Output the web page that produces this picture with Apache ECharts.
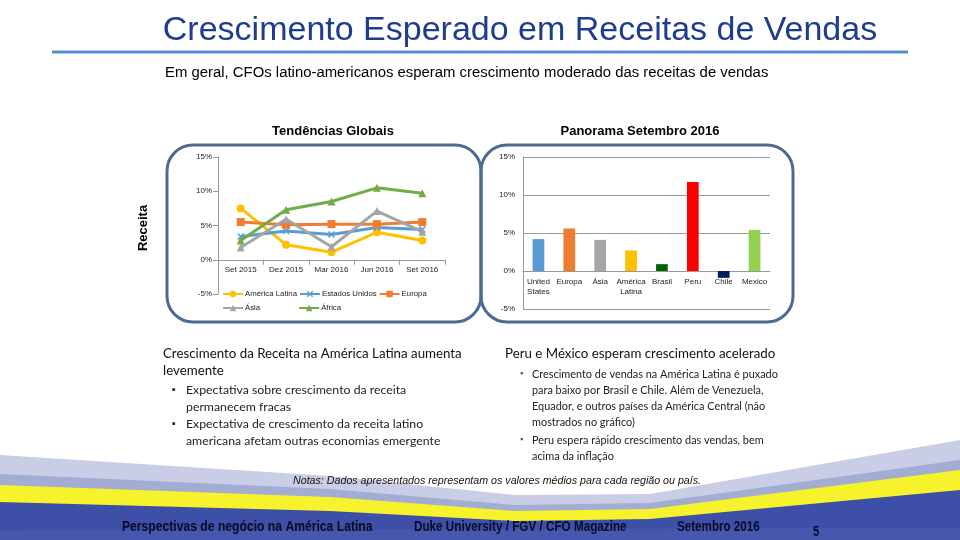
<!DOCTYPE html>
<html><head><meta charset="utf-8">
<script src="https://cdn.jsdelivr.net/npm/echarts@6/dist/echarts.min.js"></script>
<style>html,body{margin:0;padding:0;background:#fff}#c{width:960px;height:540px}</style>
</head><body><div id="c"></div>
<script>
const lineCategories = ['Set 2015', 'Dez 2015', 'Mar 2016', 'Jun 2016', 'Set 2016'];
const americaLatina = [7.5, 2.2, 1.1, 4.0, 2.8];
const estadosUnidos = [3.4, 4.2, 3.7, 4.7, 4.4];
const europa = [5.5, 5.1, 5.2, 5.2, 5.5];
const asia = [1.8, 5.9, 1.9, 7.1, 4.1];
const africa = [2.8, 7.3, 8.5, 10.5, 9.7];
const lineNames = ['América Latina', 'Estados Unidos', 'Europa', 'Ásia', 'África'];

const barCategories = ['United\nStates', 'Europa', 'Ásia', 'América\nLatina', 'Brasil', 'Peru', 'Chile', 'Mexico'];
const barValues = [4.2, 5.6, 4.1, 2.7, 0.9, 11.7, -0.9, 5.4];

const yMin = -5, yMax = 15, yStep = 5;

const barColors = ['#5B9BD5', '#ED7D31', '#A5A5A5', '#FFC000', '#006400', '#FF0000', '#002060', '#92D050'];
const lineColors = ['#FFC000', '#5B9BD5', '#ED7D31', '#A5A5A5', '#70AD47'];
const xSymbol = 'path://M0,1.5 L1.5,0 L5,3.5 L8.5,0 L10,1.5 L6.5,5 L10,8.5 L8.5,10 L5,6.5 L1.5,10 L0,8.5 L3.5,5 Z';
const lineSymbols = ['circle', xSymbol, 'rect', 'triangle', 'triangle'];
const lineData = [americaLatina, estadosUnidos, europa, asia, africa];

const chart = echarts.init(document.getElementById('c'), null, {renderer: 'canvas'});

const smallFont = {fontSize: 8, fontFamily: 'Liberation Sans', color: '#222'};

// grid geometry (layout only)
const g0 = {left: 218, right: 515, top: 157, bottom: 246};
const g1 = {left: 523, right: 190, top: 157, bottom: 231};
const h0 = 540 - g0.top - g0.bottom;
const h1 = 540 - g1.top - g1.bottom;
const zeroOffset0 = -h0 * (0 - yMin) / (yMax - yMin);
const zeroOffset1 = -h1 * (0 - yMin) / (yMax - yMin);

function band(pts, color) {
  return {type: 'polygon', z: 1, shape: {points: pts.concat([[960, 540], [0, 540]])}, style: {fill: color}, silent: true};
}
function txt(x, y, text, opts, extra) {
  return Object.assign({type: 'text', x: x, y: y, z: 10, silent: true, style: Object.assign({
    text: text, fontSize: 12, fontFamily: 'Liberation Sans', fill: '#000',
    textAlign: 'left', textVerticalAlign: 'middle'}, opts || {})}, extra || {});
}
const bodyFont = 'Lato';
const LB = {fontSize: 12.3, fontFamily: bodyFont, fill: '#222'};
const RB = {fontSize: 10.9, fontFamily: bodyFont, fill: '#222'};
const FT = {fontSize: 15, fontFamily: 'Liberation Sans', fill: '#0A0A25', fontWeight: 'bold'};
const graphics = [
  // title and rule
  txt(520, 31, 'Crescimento Esperado em Receitas de Vendas', {fontSize: 34, fill: '#1F3C8F', textAlign: 'center'}),
  {type: 'line', z: 5, shape: {x1: 52, y1: 52, x2: 908, y2: 52}, style: {stroke: '#5B8EC8', lineWidth: 3}},
  txt(165, 73, 'Em geral, CFOs latino-americanos esperam crescimento moderado das receitas de vendas', {fontSize: 14.9}),
  txt(333, 131, 'Tendências Globais', {fontSize: 13, fontWeight: 'bold', textAlign: 'center'}),
  txt(640, 131, 'Panorama Setembro 2016', {fontSize: 13, fontWeight: 'bold', textAlign: 'center'}),
  {type: 'text', x: 143, y: 228, rotation: Math.PI / 2, z: 10, style: {text: 'Receita', fontSize: 13, fontWeight: 'bold', fontFamily: 'Liberation Sans', fill: '#000', textAlign: 'center', textVerticalAlign: 'middle'}},
  // panels
  {type: 'rect', z: 0, shape: {x: 167, y: 145, width: 314, height: 177, r: 26}, style: {fill: 'none', stroke: '#4C6A92', lineWidth: 3}},
  {type: 'rect', z: 0, shape: {x: 481, y: 145, width: 312, height: 177, r: 26}, style: {fill: 'none', stroke: '#4C6A92', lineWidth: 3}},
  // left text
  txt(163, 354, 'Crescimento da Receita na América Latina aumenta', {fontSize: 13.3, fontFamily: bodyFont, fill: '#111'}),
  txt(163, 371, 'levemente', {fontSize: 13.3, fontFamily: bodyFont, fill: '#111'}),
  txt(172, 390, '▪', {fontSize: 11, fill: '#222'}),
  txt(186, 390, 'Expectativa sobre crescimento da receita', LB),
  txt(186, 407, 'permanecem fracas', LB),
  txt(172, 424, '▪', {fontSize: 11, fill: '#222'}),
  txt(186, 424, 'Expectativa de crescimento da receita latino', LB),
  txt(186, 441, 'americana afetam outras economias emergente', LB),
  // right text
  txt(505, 354, 'Peru e México esperam crescimento acelerado', {fontSize: 13.3, fontFamily: bodyFont, fill: '#111'}),
  txt(520, 374, '▪', {fontSize: 9, fill: '#555'}),
  txt(532, 374, 'Crescimento de vendas na América Latina é puxado', RB),
  txt(532, 390, 'para baixo por Brasil e Chile. Além de Venezuela,', RB),
  txt(532, 406, 'Equador, e outros países da América Central (não', RB),
  txt(532, 422, 'mostrados no gráfico)', RB),
  txt(520, 440, '▪', {fontSize: 9, fill: '#555'}),
  txt(532, 440, 'Peru espera rápido crescimento das vendas, bem', RB),
  txt(532, 456, 'acima da inflação', RB),
  // footer bands
  band([[0, 455], [330, 476], [515, 495], [650, 494], [960, 440]], '#C9CEE6'),
  band([[0, 474], [330, 489], [515, 505], [650, 503], [960, 460]], '#A3ACD3'),
  band([[0, 485], [330, 497], [515, 511], [650, 509], [960, 470]], '#F6F22C'),
  band([[0, 502], [330, 511], [515, 521], [650, 519], [960, 490]], '#3D4FA6'),
  band([[0, 530], [960, 528]], '#4657AE'),
  txt(293, 481, 'Notas: Dados apresentados representam os valores médios para cada região ou país.', {fontSize: 11, fontStyle: 'italic', fontFamily: 'Liberation Sans', fill: '#111'}, {scaleX: 0.97}),
  txt(122, 527, 'Perspectivas de negócio na América Latina', FT, {scaleX: 0.81}),
  txt(414, 527, 'Duke University / FGV / CFO Magazine', FT, {scaleX: 0.78}),
  txt(677, 527, 'Setembro 2016', FT, {scaleX: 0.775}),
  txt(813, 532, '5', {fontSize: 14, fontFamily: 'Liberation Sans', fill: '#0A0A25', fontWeight: 'bold'}, {scaleX: 0.8})
];

const lineSeries = lineNames.map((n, i) => ({
  name: n, type: 'line', xAxisIndex: 0, yAxisIndex: 0, data: lineData[i],
  symbol: lineSymbols[i], symbolSize: i === 1 ? 7 : 8, showSymbol: true,
  lineStyle: {width: 3, color: lineColors[i]}, itemStyle: {color: lineColors[i]}, z: 5 + (i === 4 ? 1 : 0)
}));

const option = {
  backgroundColor: '#fff',
  animation: false,
  graphic: {elements: graphics},
  legend: [
    {data: lineNames.slice(0, 3), left: 222, top: 290, itemWidth: 20, itemHeight: 8, itemGap: 2, textStyle: {fontSize: 7.8, fontFamily: 'Liberation Sans', color: '#222', padding: [0, 0, 0, -3]}, padding: 0},
    {data: lineNames.slice(3), left: 222, top: 304, itemWidth: 20, itemHeight: 8, itemGap: 38, textStyle: {fontSize: 7.8, fontFamily: 'Liberation Sans', color: '#222', padding: [0, 0, 0, -3]}, padding: 0}
  ],
  grid: [g0, g1],
  xAxis: [
    {type: 'category', gridIndex: 0, data: lineCategories, boundaryGap: true, position: 'bottom', offset: zeroOffset0,
     axisLine: {onZero: false, lineStyle: {color: '#999'}}, axisTick: {show: true, lineStyle: {color: '#999'}},
     axisLabel: Object.assign({margin: 6, interval: 0}, smallFont)},
    {type: 'category', gridIndex: 1, data: barCategories, position: 'bottom', offset: zeroOffset1,
     axisLine: {onZero: false, lineStyle: {color: '#999'}}, axisTick: {show: false},
     axisLabel: Object.assign({margin: 6, interval: 0, lineHeight: 10}, smallFont)}
  ],
  yAxis: [
    {type: 'value', gridIndex: 0, min: yMin, max: yMax, interval: yStep,
     axisLine: {show: true, lineStyle: {color: '#999'}}, axisTick: {show: true, lineStyle: {color: '#999'}},
     splitLine: {show: false}, axisLabel: Object.assign({formatter: '{value}%', margin: 6}, smallFont)},
    {type: 'value', gridIndex: 1, min: yMin, max: yMax, interval: yStep,
     axisLine: {show: true, lineStyle: {color: '#999'}}, axisTick: {show: false},
     splitLine: {show: true, lineStyle: {color: '#999', width: 1}}, axisLabel: Object.assign({formatter: '{value}%', margin: 8}, smallFont)}
  ],
  series: lineSeries.concat([{
    name: 'Panorama', type: 'bar', xAxisIndex: 1, yAxisIndex: 1, barWidth: '38%',
    data: barValues.map((v, i) => ({value: v, itemStyle: {color: barColors[i]}})), z: 3
  }])
};
chart.setOption(option);
</script></body></html>
